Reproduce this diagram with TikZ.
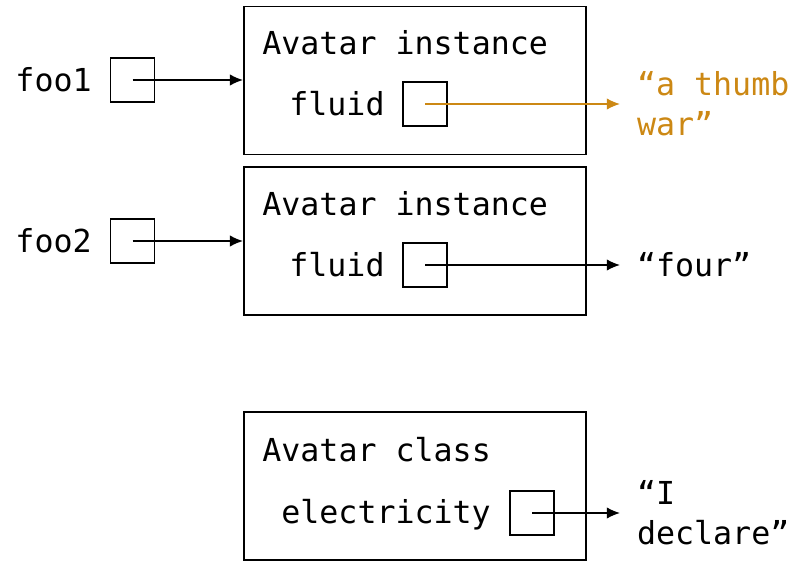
\documentclass[tikz,border=0pt]{standalone}
\usepackage{fontspec}
\setmonofont{DejaVu Sans Mono}
\usetikzlibrary{arrows.meta,positioning}
\definecolor{thumbcol}{RGB}{204,136,20}
\tikzset{
  objbox/.style={draw,line width=1.1pt,minimum width=6.84cm,minimum height=2.96cm,inner sep=0},
  ptrbox/.style={draw,line width=0.9pt,minimum size=0.88cm,inner sep=0},
  lbl/.style={inner sep=0,font=\ttfamily\fontsize{18}{22.7}\selectfont},
  val/.style={lbl,inner xsep=9.5pt,align=left},
  ptr/.style={line width=0.85pt,-{Latex[length=7.5pt,width=6.5pt]}}
}
\begin{document}
\begin{tikzpicture}[x=.02cm,y=-.02cm]
\useasboundingbox (0,0) rectangle (798,561);
% the two instances
\node[objbox] (inst1) at (415,80.5) {};
\node[objbox] (inst2) at (415,241) {};
\node[lbl,anchor=west] (title1) at (262,43) {Avatar instance};
\node[lbl,anchor=west] (title2) at (262,204) {Avatar instance};
\node[lbl,anchor=west] (fluid1) at (289,104) {fluid};
\node[lbl,anchor=west] (fluid2) at (289,265) {fluid};
\node[ptrbox] (fbox1) at (425,104) {};
\node[ptrbox] (fbox2) at (425,265) {};
% variables
\node[lbl,anchor=east] (foo1) at (92,80) {foo1};
\node[lbl,anchor=east] (foo2) at (92,241) {foo2};
\node[ptrbox] (vbox1) at (132.5,80) {};
\node[ptrbox] (vbox2) at (132.5,241) {};
% class
\node[objbox] (cls) at (415,486) {};
\node[lbl,anchor=west] (title3) at (262,450) {Avatar class};
\node[lbl,anchor=west] (elec) at (281,515) {electricity};
\node[ptrbox] (ebox) at (532,513) {};
% values
\node[val,anchor=west,text=thumbcol] (thumb) at (620,104) {“a thumb\\war”};
\node[val,anchor=west] (four) at (620,265) {“four”};
\node[val,anchor=west] (decl) at (620,513) {“I\\declare”};
\draw[ptr] (vbox1.center) -- (vbox1.center -| inst1.west);
\draw[ptr] (vbox2.center) -- (vbox2.center -| inst2.west);
\draw[ptr,thumbcol] (fbox1.center) -- (fbox1.center -| thumb.west);
\draw[ptr] (fbox2.center) -- (four.west);
\draw[ptr] (ebox.center) -- (decl.west);
\end{tikzpicture}
\end{document}
